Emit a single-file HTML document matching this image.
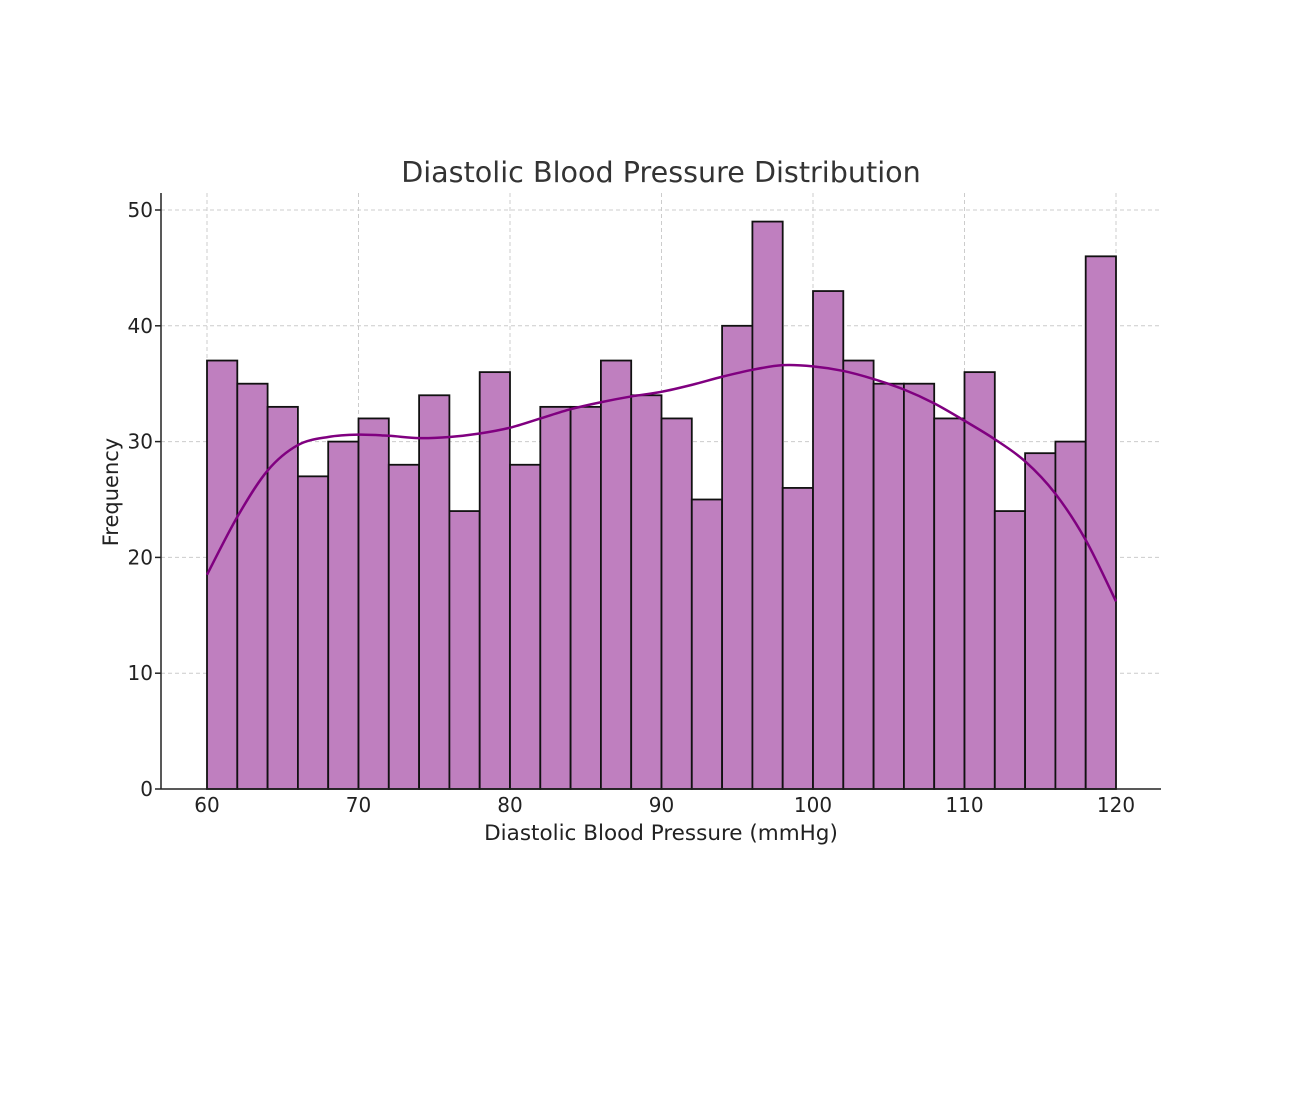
<!DOCTYPE html>
<html><head><meta charset="utf-8"><style>
body{margin:0;background:#fff;}
svg{display:block;font-family:"DejaVu Sans","Liberation Sans",sans-serif;}
</style></head><body>
<svg id="chart" width="1290" height="1117">
<rect width="1290" height="1117" fill="#fff"/>
<g id="grid"></g>
<g id="bars"></g>
<path id="kde" fill="none" stroke="#800080" stroke-width="2.5"/>
<g id="axes"></g>
<text x="661" y="182" text-anchor="middle" font-size="28.6" fill="#333">Diastolic Blood Pressure Distribution</text>
<text x="661" y="840" text-anchor="middle" font-size="21.5" fill="#222">Diastolic Blood Pressure (mmHg)</text>
<text transform="translate(118,492) rotate(-90)" text-anchor="middle" font-size="21" fill="#222">Frequency</text>
</svg>
<script>
const binStarts=[60,62,64,66,68,70,72,74,76,78,80,82,84,86,88,90,92,94,96,98,100,102,104,106,108,110,112,114,116,118];
const counts=[37,35,33,27,30,32,28,34,24,36,28,33,33,37,34,32,25,40,49,26,43,37,35,35,32,36,24,29,30,46];
const kdeX=[60,62,64,66,68,70,72,74,76,78,80,82,84,86,88,90,92,94,96,98,100,102,104,106,108,110,112,114,116,118,120];
const kdeY=[18.5,23.5,27.5,29.7,30.4,30.6,30.5,30.3,30.4,30.7,31.2,32,32.8,33.4,33.9,34.3,34.9,35.6,36.2,36.6,36.5,36.1,35.4,34.5,33.3,31.8,30.2,28.3,25.5,21.5,16.2];
const xTicks=[60,70,80,90,100,110,120];
const yTicks=[0,10,20,30,40,50];
const binWidth=2;
const NS="http://www.w3.org/2000/svg";
const xs=v=>207+(v-60)*(1116-207)/60;
const ys=v=>789-v*(789-210)/50;
function mk(tag,attrs,parent){const e=document.createElementNS(NS,tag);for(const k in attrs)e.setAttribute(k,attrs[k]);parent.appendChild(e);return e;}
const grid=document.getElementById('grid'),bars=document.getElementById('bars'),axes=document.getElementById('axes');
xTicks.forEach(t=>{
  const l=mk('line',{x1:xs(t),x2:xs(t),y1:193,y2:789,stroke:'#ccc','stroke-width':1,'stroke-dasharray':'4,3'},grid);
  
  
  const tx=mk('text',{x:xs(t),y:812,'text-anchor':'middle','font-size':20,fill:'#222'},axes);
  tx.textContent=t;
  
  
});
yTicks.forEach(t=>{
  const l=mk('line',{x1:161,x2:1161,y1:ys(t),y2:ys(t),stroke:'#ccc','stroke-width':1,'stroke-dasharray':'4,3'},grid);
  
  
  const tk=mk('line',{x1:155,x2:161,y1:ys(t),y2:ys(t),stroke:'#222','stroke-width':1.5},axes);
  
  
  const tx=mk('text',{x:153,y:ys(t)+7,'text-anchor':'end','font-size':20,fill:'#222'},axes);
  tx.textContent=t;
  
  
});
binStarts.forEach((b,i)=>{
  const r=mk('rect',{x:xs(b),y:ys(counts[i]),width:xs(b+binWidth)-xs(b),height:ys(0)-ys(counts[i]),fill:'#bf7fbf',stroke:'#111','stroke-width':1.8},bars);
  
  
});
const P=kdeX.map((x,i)=>[xs(x),ys(kdeY[i])]);
let d='M'+P[0][0]+','+P[0][1];
for(let i=0;i<P.length-1;i++){
  const p0=P[i-1]||P[i],p1=P[i],p2=P[i+1],p3=P[i+2]||P[i+1];
  const c1=[p1[0]+(p2[0]-p0[0])/6,p1[1]+(p2[1]-p0[1])/6];
  const c2=[p2[0]-(p3[0]-p1[0])/6,p2[1]-(p3[1]-p1[1])/6];
  d+=' C'+c1+' '+c2+' '+p2;
}
document.getElementById('kde').setAttribute('d',d);
const ax1=mk('line',{x1:161,x2:161,y1:193,y2:789,stroke:'#222','stroke-width':1.5},axes);


const ax2=mk('line',{x1:161,x2:1161,y1:789,y2:789,stroke:'#222','stroke-width':1.5},axes);


</script>
</body></html>
